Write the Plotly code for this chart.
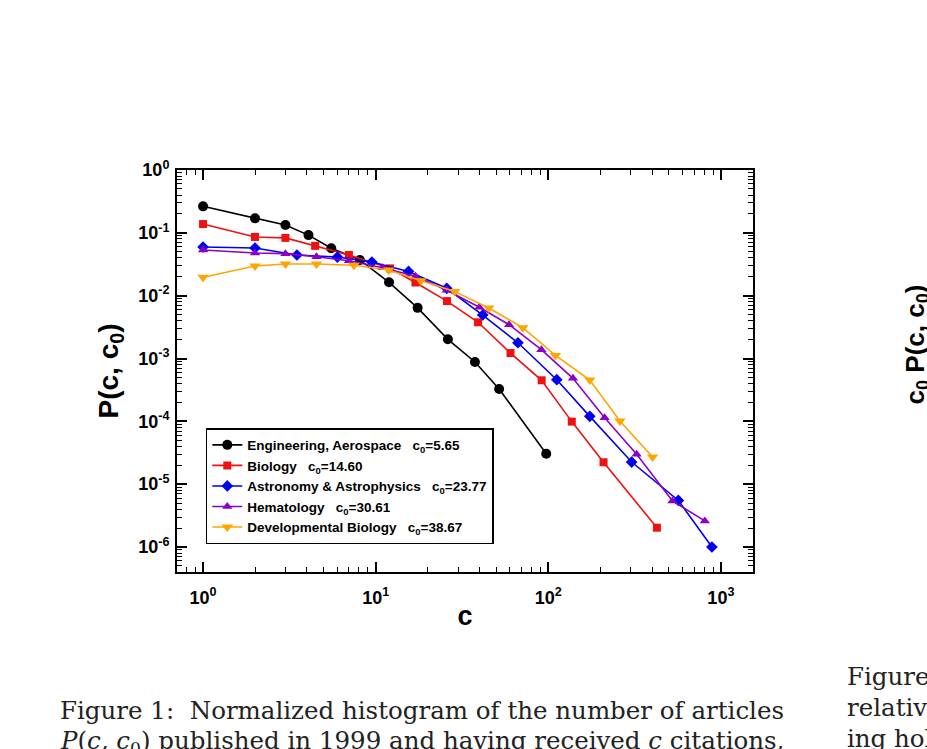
import plotly.graph_objects as go

# ---- data ----
eng_c = [1, 2, 3, 4.08, 5.53, 8.1, 11.95, 17.5, 26.2, 37.6, 51.9, 97.3]
eng_p = [0.264, 0.170, 0.133, 0.092, 0.057, 0.037, 0.0163, 0.0064, 0.00202, 0.00088, 0.000327, 3.05e-5]

bio_c = [1, 2, 3, 4.46, 7.0, 12.1, 17, 25.9, 39.2, 60.4, 91.5, 136.8, 209, 426]
bio_p = [0.138, 0.086, 0.083, 0.062, 0.0444, 0.0272, 0.0162, 0.0082, 0.00377, 0.00122, 0.00045, 9.9e-5, 2.23e-5, 2.03e-6]

ast_c = [1, 2, 3.5, 6.0, 9.5, 15.5, 25.8, 41.7, 66.7, 112, 174, 304, 567, 887]
ast_p = [0.0595, 0.0574, 0.0444, 0.0412, 0.0343, 0.0243, 0.0131, 0.00492, 0.00178, 0.00046, 0.00012, 2.25e-5, 5.5e-6, 1.0e-6]

hem_c = [1, 2, 3, 4.54, 7.0, 11.0, 17, 25.8, 39.9, 59.3, 91.2, 139, 212, 325, 524, 807]
hem_p = [0.0533, 0.0477, 0.0466, 0.0417, 0.036, 0.0278, 0.0203, 0.0122, 0.00653, 0.00345, 0.00138, 0.000484, 0.000114, 2.99e-5, 5.4e-6, 2.6e-6]

dev_c = [1, 2, 3, 4.54, 7.48, 11.9, 18.3, 28.7, 45.2, 71.2, 110, 174, 260, 402]
dev_p = [0.0196, 0.0297, 0.0319, 0.0319, 0.0304, 0.0256, 0.0173, 0.0117, 0.00637, 0.00309, 0.00112, 0.000455, 0.000101, 2.7e-5]

series_names = [
    "Engineering, Aerospace\u00a0\u00a0\u00a0c<sub>0</sub>=5.65",
    "Biology\u00a0\u00a0\u00a0c<sub>0</sub>=14.60",
    "Astronomy & Astrophysics\u00a0\u00a0\u00a0c<sub>0</sub>=23.77",
    "Hematology\u00a0\u00a0\u00a0c<sub>0</sub>=30.61",
    "Developmental Biology\u00a0\u00a0\u00a0c<sub>0</sub>=38.67",
]
series_colors = ["#000000", "#f01010", "#0000f0", "#8a00c8", "#ffa500"]
series_symbols = ["circle", "square", "diamond", "triangle-up", "triangle-down"]
series_sizes = [10, 8, 9, 9, 10]

x_tickvals = [1, 10, 100, 1000]
x_ticktext = ["10<sup>0</sup>", "10<sup>1</sup>", "10<sup>2</sup>", "10<sup>3</sup>"]
y_tickvals = [1, 1e-1, 1e-2, 1e-3, 1e-4, 1e-5, 1e-6]
y_ticktext = ["10<sup>0</sup>", "10<sup>-1</sup>", "10<sup>-2</sup>", "10<sup>-3</sup>",
              "10<sup>-4</sup>", "10<sup>-5</sup>", "10<sup>-6</sup>"]

SANS = "Liberation Sans, Arial, Helvetica, sans-serif"
SERIF = "DejaVu Serif, Liberation Serif, serif"

fig = go.Figure()
all_x = [eng_c, bio_c, ast_c, hem_c, dev_c]
all_y = [eng_p, bio_p, ast_p, hem_p, dev_p]
for xs, ys, name, col, sym, sz in zip(all_x, all_y, series_names, series_colors,
                                      series_symbols, series_sizes):
    fig.add_trace(go.Scatter(
        x=xs, y=ys, name=name, mode="lines+markers",
        line=dict(color=col, width=1.6),
        marker=dict(color=col, symbol=sym, size=sz, line=dict(width=0)),
    ))

axis_common = dict(
    type="log", showline=True, linecolor="black", linewidth=2, mirror="allticks",
    ticks="inside", ticklen=10, tickwidth=1.5, tickcolor="black",
    showgrid=False, zeroline=False,
    tickfont=dict(family=SANS, size=18, color="black", weight="bold"),
    minor=dict(ticks="inside", ticklen=5, tickwidth=1, tickcolor="black",
               showgrid=False, dtick="D1"),
)

fig.update_layout(
    width=927, height=749,
    template="none",
    paper_bgcolor="white", plot_bgcolor="white",
    margin=dict(l=177, r=174, t=170, b=177),
    xaxis=dict(axis_common, range=[-0.151, 3.186], tickmode="array",
               tickvals=x_tickvals, ticktext=x_ticktext, ticklabelstandoff=8,
               title=dict(text="c", standoff=0,
                          font=dict(family=SANS, size=27, color="black", weight="bold"))),
    yaxis=dict(axis_common, range=[-6.398, 0], tickmode="array",
               tickvals=y_tickvals, ticktext=y_ticktext, ticklabelstandoff=2,
               title=dict(text="P(c, c<sub>0</sub>)", standoff=11,
                          font=dict(family=SANS, size=28, color="black", weight="bold"))),
    showlegend=True,
    legend=dict(x=0.05, y=0.358, xanchor="left", yanchor="top",
                bgcolor="white", bordercolor="black", borderwidth=1.5,
                font=dict(family=SANS, size=13.5, color="black", weight="bold"),
                itemwidth=30, tracegroupgap=0),
)

# page text around the figure
fig.add_annotation(xref="paper", yref="paper", x=(58 - 177) / 576, y=(572 - 710) / 402,
                   xanchor="left", yanchor="middle", showarrow=False,
                   text="Figure 1:  Normalized histogram of the number of articles",
                   font=dict(family=SERIF, size=24.5, color="#222222"))
fig.add_annotation(xref="paper", yref="paper", x=(58 - 177) / 576, y=(572 - 742) / 402,
                   xanchor="left", yanchor="middle", showarrow=False,
                   text="<i>P</i>(<i>c, c</i><sub>0</sub>) published in 1999 and having received <i>c</i> citations,",
                   font=dict(family=SERIF, size=24.5, color="#222222"))
for txt, yy in [("Figure", 676), ("relative", 707), ("ing hol", 738)]:
    fig.add_annotation(xref="paper", yref="paper", x=(845 - 177) / 576, y=(572 - yy) / 402,
                       xanchor="left", yanchor="middle", showarrow=False,
                       text=txt, font=dict(family=SERIF, size=24.5, color="#222222"))
fig.add_annotation(xref="paper", yref="paper", x=(897 - 177) / 576, y=(572 - 345) / 402,
                   xanchor="left", yanchor="middle", showarrow=False, textangle=-90,
                   text="c<sub>0</sub> P(c, c<sub>0</sub>)",
                   font=dict(family=SANS, size=26, color="black", weight="bold"))

fig.write_html("out.html")
